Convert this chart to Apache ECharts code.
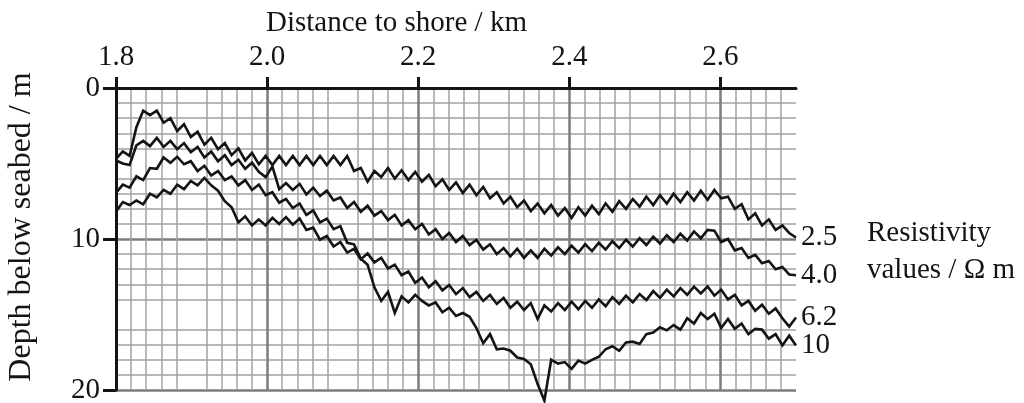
<!DOCTYPE html>
<html><head><meta charset="utf-8">
<script src="https://cdn.jsdelivr.net/npm/echarts@6/dist/echarts.min.js"></script>
<style>html,body{margin:0;padding:0;background:#fff}#c{width:1024px;height:403px}</style>
</head><body><div id="c"></div>
<script>
// Distance to shore (km) sampling positions
const distance = [
1.800,1.809,1.818,1.827,1.836,1.845,1.854,1.863,1.872,1.881,
1.890,1.899,1.908,1.917,1.926,1.935,1.944,1.953,1.962,1.971,
1.980,1.989,1.998,2.007,2.016,2.025,2.034,2.043,2.052,2.061,
2.070,2.079,2.088,2.097,2.106,2.115,2.124,2.133,2.142,2.151,
2.160,2.169,2.178,2.187,2.196,2.205,2.214,2.223,2.232,2.241,
2.250,2.259,2.268,2.277,2.286,2.295,2.304,2.313,2.322,2.331,
2.340,2.349,2.358,2.367,2.376,2.385,2.394,2.403,2.412,2.421,
2.430,2.439,2.448,2.457,2.466,2.475,2.484,2.493,2.502,2.511,
2.520,2.529,2.538,2.547,2.556,2.565,2.574,2.583,2.592,2.601,
2.610,2.619,2.628,2.637,2.646,2.655,2.664,2.673,2.682,2.691,
2.700];
// Depth below seabed (m) of each resistivity contour
const depth25 = [
4.7,4.2,4.5,2.6,1.5,1.8,1.5,2.3,2.0,2.85,
2.4,3.25,2.9,3.75,3.3,4.05,3.65,4.45,4.0,4.8,
4.3,5.05,4.5,5.1,4.5,5.1,4.5,5.1,4.5,5.1,
4.5,5.1,4.5,5.1,4.5,5.5,5.3,6.2,5.5,5.9,
5.3,6.0,5.45,6.1,5.55,6.2,5.75,6.5,6.05,6.75,
6.25,6.95,6.4,7.1,6.55,7.3,6.9,7.65,7.2,7.9,
7.45,8.15,7.65,8.3,7.75,8.45,7.95,8.6,7.9,8.45,
7.8,8.35,7.65,8.2,7.5,8.0,7.35,7.85,7.2,7.75,
7.1,7.65,7.0,7.55,6.9,7.45,6.8,7.4,6.75,7.3,
7.2,8.0,7.7,8.7,8.3,9.1,8.7,9.4,9.1,9.6,
9.9];
const depth40 = [
4.8,5.0,5.1,3.8,3.5,3.85,3.3,3.9,3.5,4.05,
3.65,4.25,3.9,4.6,4.2,4.85,4.45,5.1,4.75,5.35,
4.95,5.55,5.9,5.2,6.7,6.3,6.75,6.35,7.05,6.6,
7.15,6.8,7.45,7.25,7.95,7.55,8.2,7.8,8.45,8.15,
8.75,8.4,9.1,8.75,9.35,9.0,9.7,9.35,10.0,9.6,
10.2,9.8,10.4,10.05,10.7,10.35,11.0,10.6,11.15,10.65,
11.25,10.75,11.25,10.65,11.1,10.55,11.0,10.45,10.9,10.35,
10.8,10.25,10.7,10.15,10.6,10.05,10.5,9.95,10.4,9.85,
10.3,9.75,10.2,9.65,10.1,9.5,9.95,9.4,9.45,10.2,
10.0,10.75,10.6,11.25,11.05,11.6,11.45,12.0,11.85,12.35,
12.4];
const depth62 = [
8.2,7.55,7.75,7.45,7.7,7.0,7.25,6.75,7.0,6.4,
6.7,6.15,6.45,5.95,6.45,6.8,7.5,7.9,8.9,8.5,
9.1,8.7,9.1,8.6,9.0,8.55,9.05,8.65,9.4,9.25,
10.05,9.8,10.5,10.2,10.9,10.65,11.35,10.95,11.55,11.25,
11.95,11.7,12.4,12.15,12.9,12.55,13.2,12.8,13.4,13.05,
13.65,13.25,13.85,13.5,14.1,13.7,14.3,13.9,14.55,14.15,
14.7,14.25,15.3,14.4,14.8,14.25,14.7,14.15,14.65,14.1,
14.55,14.0,14.45,13.85,14.3,13.75,14.2,13.65,14.05,13.45,
13.9,13.35,13.8,13.25,13.7,13.15,13.6,13.15,13.75,13.35,
14.0,13.7,14.4,14.1,14.75,14.35,14.95,14.6,15.25,15.8,
15.2];
const depth10 = [
6.95,6.4,6.6,5.85,6.1,5.3,5.35,4.6,4.95,4.55,
5.05,4.85,5.5,5.15,5.8,5.5,6.1,5.85,6.45,6.1,
6.75,6.4,7.1,6.9,7.6,7.35,7.95,7.65,8.4,8.1,
8.9,8.65,9.35,9.15,10.25,10.35,11.3,11.7,13.2,14.1,
13.5,14.9,13.8,14.2,13.7,14.1,14.4,14.2,14.85,14.55,
15.1,14.9,15.15,15.9,16.9,16.3,17.3,17.25,17.4,17.85,
17.95,18.3,19.6,20.7,18.0,18.25,18.15,18.6,18.05,18.25,
18.0,17.8,17.3,17.1,17.4,16.85,16.8,16.95,16.3,16.2,
15.85,16.05,15.7,16.0,15.25,15.6,14.9,15.3,14.95,15.9,
15.3,15.95,15.6,16.3,15.95,16.0,16.6,16.3,17.05,16.4,
17.05];
const curveNames = ['2.5','4.0','6.2','10'];
const xTickValues = [1.8,2.0,2.2,2.4,2.6];
const yTickValues = [0,10,20];
const xTitle = 'Distance to shore / km';
const yTitle = 'Depth below seabed / m';
const legendTitle = ['Resistivity','values / \u03A9 m'];

const FONT = '"Liberation Serif","Times New Roman",serif';
const INK = '#141414';
const curves = [depth25, depth40, depth62, depth10];
const chart = echarts.init(document.getElementById('c'), null, {renderer:'canvas'});
chart.setOption({
  animation:false,
  backgroundColor:'#ffffff',
  grid:{left:116, top:88, width:680, height:302, containLabel:false, outerBoundsMode:'none'},
  xAxis:{
    type:'value', position:'top', min:1.8, max:2.7, interval:0.1,
    axisLine:{show:true, onZero:false, lineStyle:{color:INK, width:3}},
    axisTick:{show:true, inside:false, length:11, customValues:xTickValues, lineStyle:{color:INK, width:3}},
    axisLabel:{show:true, customValues:xTickValues, margin:16, fontFamily:FONT, fontSize:29, color:INK,
      formatter:v=>Number(v).toFixed(1)},
    splitLine:{show:true, lineStyle:{color:'#7c7c7c', width:2.5}},
    minorTick:{show:false, splitNumber:5},
    minorSplitLine:{show:true, lineStyle:{color:'#a3a3a3', width:1.5}}
  },
  yAxis:{
    type:'value', inverse:true, min:0, max:20, interval:5, position:'left',
    axisLine:{show:true, onZero:false, lineStyle:{color:INK, width:3}},
    axisTick:{show:true, inside:false, length:13, customValues:yTickValues, lineStyle:{color:INK, width:3}},
    axisLabel:{show:true, customValues:yTickValues, margin:16, fontFamily:FONT, fontSize:29, color:INK},
    splitLine:{show:true, lineStyle:{color:'#7c7c7c', width:2.5}},
    minorTick:{show:false, splitNumber:5},
    minorSplitLine:{show:true, lineStyle:{color:'#a3a3a3', width:1.5}}
  },
  series: curves.map((d,k)=>({
    type:'line', name:curveNames[k], silent:true, clip:false,
    data: distance.map((x,i)=>[x,d[i]]),
    symbol:'none', showSymbol:false,
    lineStyle:{color:INK, width:2.6, join:'miter', miterLimit:4},
    endLabel:{show:true, formatter:()=>curveNames[k], fontFamily:FONT, fontSize:29, color:INK, distance:5},
    z:5
  })),
  graphic:[
    {type:'text', x:266, y:23, style:{text:xTitle, fontFamily:FONT, fontSize:29, fill:INK, align:'left', verticalAlign:'middle'}},
    {type:'text', x:22, y:227, rotation:Math.PI/2, style:{text:yTitle, fontFamily:FONT, fontSize:32, fill:INK, align:'center', verticalAlign:'middle'}},
    {type:'text', x:867, y:233, style:{text:legendTitle[0], fontFamily:FONT, fontSize:29, fill:INK, align:'left', verticalAlign:'middle'}},
    {type:'text', x:867, y:270, style:{text:legendTitle[1], fontFamily:FONT, fontSize:29, fill:INK, align:'left', verticalAlign:'middle'}}
  ]
});
</script></body></html>
